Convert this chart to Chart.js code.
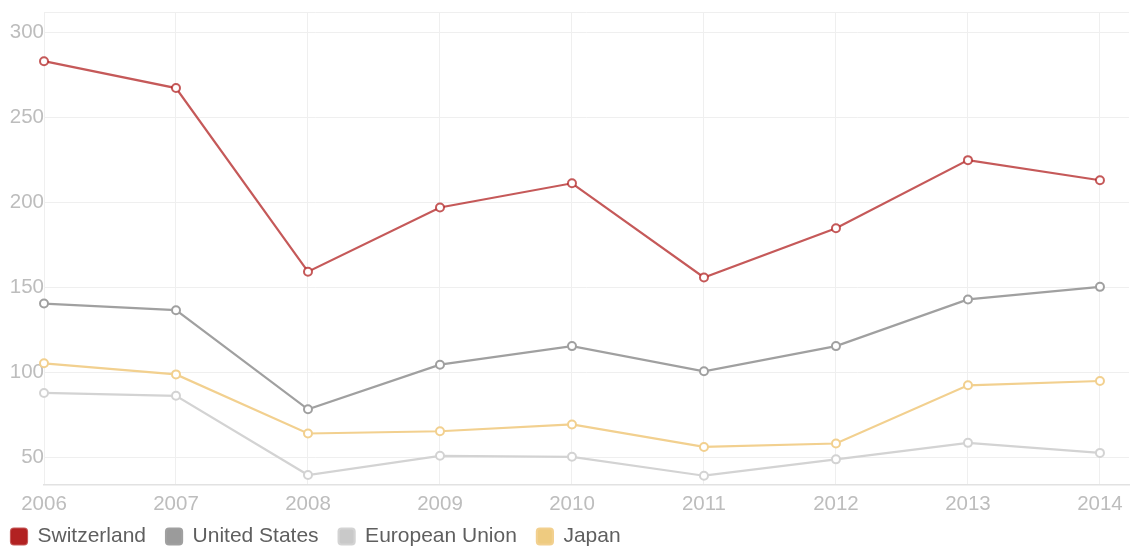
<!DOCTYPE html>
<html>
<head>
<meta charset="utf-8">
<script src="https://cdn.jsdelivr.net/npm/chart.js@4"></script>
<style>
  body { margin: 0; background: #fff; }
  #chart { display: block; }
</style>
</head>
<body>
<canvas id="chart" width="1135" height="549"></canvas>
<script>
const years = [2006, 2007, 2008, 2009, 2010, 2011, 2012, 2013, 2014]
const switzerland = [282.9, 267.1, 159.3, 197.0, 211.2, 155.9, 184.8, 224.8, 213.0]
const unitedStates = [140.6, 136.7, 78.5, 104.7, 115.6, 100.8, 115.6, 143.0, 150.4]
const europeanUnion = [88.1, 86.4, 39.9, 51.2, 50.6, 39.5, 49.1, 58.8, 52.9]
const japan = [105.5, 99.0, 64.3, 65.6, 69.6, 56.4, 58.4, 92.6, 95.1]
const yTicks = [50, 100, 150, 200, 250, 300]
const yMin = 34.4
const yMax = 311.6

function toPoints(values) {
    return years.map((year, i) => ({x: year, y: values[i]}))
}

function makeDataset(label, values, line, box) {
    return {
        label: label,
        data: toPoints(values),
        borderColor: line,
        backgroundColor: box,
        borderWidth: 2.2,
        pointRadius: 4,
        pointBorderWidth: 2,
        pointBackgroundColor: '#fff',
        pointBorderColor: line,
        tension: 0,
        clip: false,
    }
}

// pull the legend a bit up and left so it sits under the year labels
const legendNudge = {
    id: 'legendNudge',
    afterLayout(chart) {
        chart.legend.left -= 9
        chart.legend.top -= 19
    }
}

const font = {family: "'Liberation Sans', Arial, sans-serif", size: 20.5}

const chart = new Chart(document.getElementById('chart'), {
    type: 'line',
    data: {
        datasets: [
            makeDataset('Switzerland', switzerland, 'rgba(178, 34, 34, 0.75)', '#b22222'),
            makeDataset('United States', unitedStates, '#a0a0a0', '#9b9b9b'),
            makeDataset('European Union', europeanUnion, '#d3d3d3', '#c9c9c9'),
            makeDataset('Japan', japan, '#f2d08f', '#eecb80'),
        ]
    },
    plugins: [legendNudge],
    options: {
        responsive: false,
        animation: false,
        layout: {padding: {top: 12, right: 2, bottom: -27, left: 0}},
        plugins: {
            tooltip: {enabled: false},
            legend: {
                position: 'bottom',
                align: 'start',
                labels: {
                    font: {family: font.family, size: 21},
                    color: '#5f5f5f',
                    boxWidth: 16,
                    boxHeight: 16,
                    padding: 20,
                    useBorderRadius: true,
                    borderRadius: 3,
                }
            }
        },
        scales: {
            x: {
                type: 'linear',
                min: years[0],
                max: 2014.22,
                afterBuildTicks: scale => {
                    scale.ticks = years.map(v => ({value: v}))
                },
                grid: {color: '#efefef', drawTicks: false},
                border: {color: '#e2e2e2', width: 1.5},
                ticks: {
                    font: font,
                    color: '#bdbdbd',
                    padding: 8,
                    maxRotation: 0,
                    autoSkip: false,
                    callback: v => String(v)
                }
            },
            y: {
                min: yMin,
                max: yMax,
                afterBuildTicks: scale => {
                    scale.ticks = [yMin, ...yTicks, yMax].map(v => ({value: v}))
                },
                afterFit: scale => {
                    scale.width = 44
                },
                grid: {color: '#efefef', drawTicks: false},
                border: {display: false},
                ticks: {
                    font: font,
                    color: '#bdbdbd',
                    padding: 0,
                    autoSkip: false,
                    callback: v => yTicks.includes(v) ? v : ''
                }
            }
        }
    }
})
</script>
</body>
</html>
